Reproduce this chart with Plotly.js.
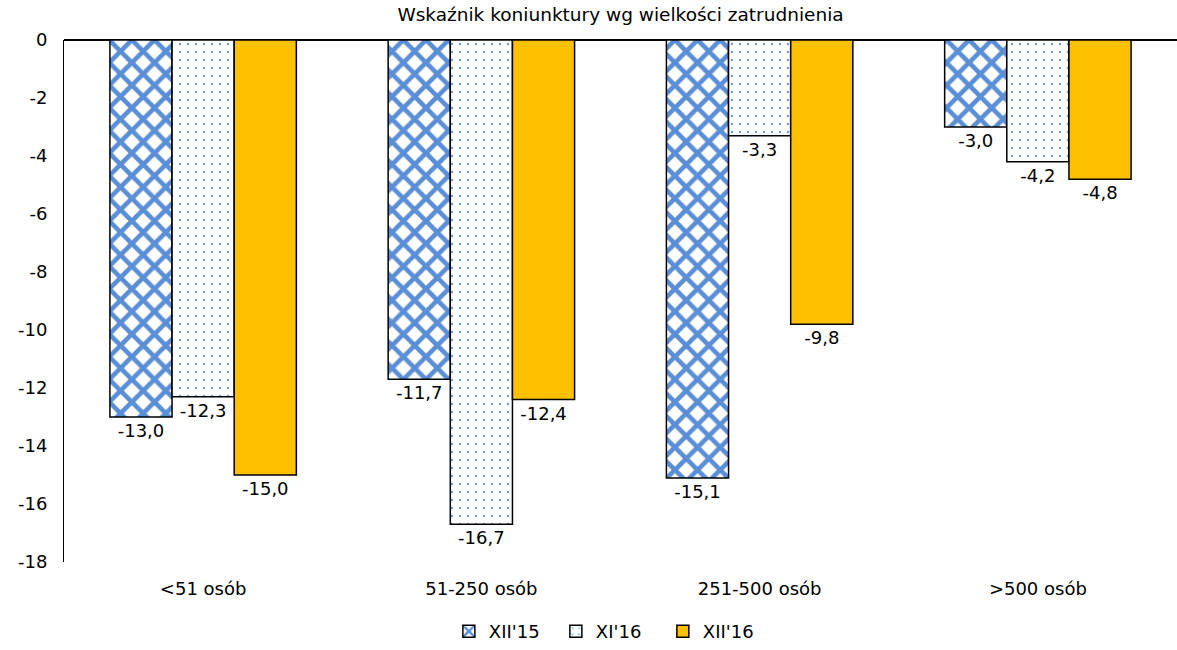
<!DOCTYPE html>
<html>
<head>
<meta charset="utf-8">
<script src="https://cdn.plot.ly/plotly-3.0.1.min.js"></script>
<style>html,body{margin:0;padding:0;background:#fff;}#chart{width:1177px;height:650px;}</style>
</head>
<body>
<div id="chart"></div>
<script>
var categories = ['<51 osób', '51-250 osób', '251-500 osób', '>500 osób'];
var seriesNames = ["XII'15", "XI'16", "XII'16"];
var valsXII15 = [-13.0, -11.7, -15.1, -3.0];
var valsXI16 = [-12.3, -16.7, -3.3, -4.2];
var valsXII16 = [-15.0, -12.4, -9.8, -4.8];
var yTickVals = [0, -2, -4, -6, -8, -10, -12, -14, -16, -18];
var yTickText = ['0', '-2', '-4', '-6', '-8', '-10', '-12', '-14', '-16', '-18'];

var FONT = 'DejaVu Sans, Verdana, sans-serif';
var FS = 18;
function fmt(arr) { return arr.map(function (v) { return v.toFixed(1).replace('.', ','); }); }

var lineStyle = { color: '#000000', width: 1.5 };
var traces = [
  {
    type: 'bar', name: seriesNames[0], x: categories, y: valsXII15,
    text: fmt(valsXII15), textposition: 'outside', cliponaxis: false,
    marker: { color: '#ffffff', line: lineStyle,
      pattern: { shape: 'x', bgcolor: '#ffffff', fgcolor: '#5A8ED6', size: 16, solidity: 0.5 } }
  },
  {
    type: 'bar', name: seriesNames[1], x: categories, y: valsXI16,
    text: fmt(valsXI16), textposition: 'outside', cliponaxis: false,
    marker: { color: '#ffffff', line: lineStyle,
      pattern: { shape: '.', bgcolor: '#ffffff', fgcolor: '#6A9FDC', size: 8, solidity: 0.07 } }
  },
  {
    type: 'bar', name: seriesNames[2], x: categories, y: valsXII16,
    text: fmt(valsXII16), textposition: 'outside', cliponaxis: false,
    marker: { color: '#FFC000', line: lineStyle }
  }
];

var layout = {
  width: 1177, height: 650,
  paper_bgcolor: '#ffffff', plot_bgcolor: '#ffffff',
  font: { family: FONT, size: FS, color: '#000000' },
  margin: { l: 64, r: 0, t: 40, b: 88 },
  title: { text: 'Wskaźnik koniunktury wg wielkości zatrudnienia', font: { family: FONT, size: 18.5, color: '#000' },
    xref: 'paper', x: 0.5, xanchor: 'center', yref: 'container', y: 0.977, yanchor: 'middle' },
  barmode: 'group', bargap: 0.33, bargroupgap: 0,
  showlegend: true,
  legend: { orientation: 'h', x: 0.49, xanchor: 'center', y: -0.134, yanchor: 'middle',
    font: { family: FONT, size: FS, color: '#000' }, itemwidth: 30, entrywidth: 62, entrywidthmode: 'pixels',
    traceorder: 'normal' },
  xaxis: { type: 'category', showline: false, showgrid: false, zeroline: false, ticks: '',
    tickfont: { family: FONT, size: FS, color: '#000' }, ticklabelstandoff: 14 },
  yaxis: { range: [-18, 0], showline: true, linecolor: '#000', linewidth: 1, showgrid: false,
    zeroline: true, zerolinecolor: '#000', zerolinewidth: 1.5, ticks: '',
    tickmode: 'array', tickvals: yTickVals, ticktext: yTickText,
    tickfont: { family: FONT, size: FS, color: '#000' }, ticklabelstandoff: 12 }
};
traces.forEach(function (t) { t.textfont = { family: FONT, size: FS, color: '#000' }; });

Plotly.newPlot('chart', traces, layout, { displayModeBar: false, staticPlot: true });
</script>
</body>
</html>
